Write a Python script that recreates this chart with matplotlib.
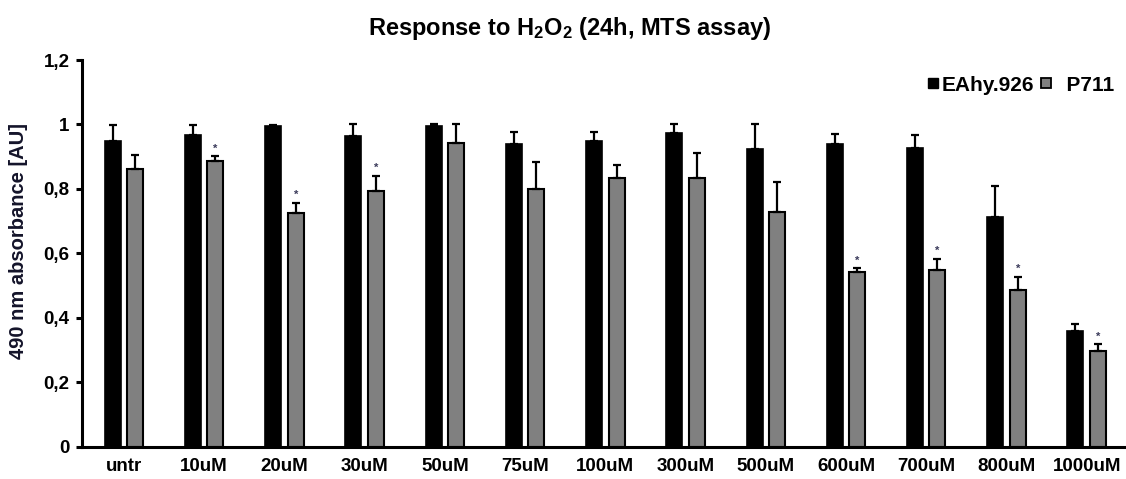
import numpy as np
import matplotlib.pyplot as plt
from matplotlib.lines import Line2D
from matplotlib.ticker import FuncFormatter

plt.rcParams['font.family'] = ['Liberation Sans', 'DejaVu Sans']
plt.rcParams['font.weight'] = 'bold'
plt.rcParams['mathtext.fontset'] = 'custom'
plt.rcParams['mathtext.bf'] = 'Liberation Sans:bold'
plt.rcParams['mathtext.rm'] = 'Liberation Sans:bold'
plt.rcParams['mathtext.default'] = 'bf'

# data
doses = ["untr", "10uM", "20uM", "30uM", "50uM", "75uM", "100uM",
         "300uM", "500uM", "600uM", "700uM", "800uM", "1000uM"]
eahy = [0.949, 0.967, 0.996, 0.964, 0.996, 0.939, 0.948,
        0.973, 0.924, 0.939, 0.928, 0.714, 0.359]
eahy_err = [0.049, 0.031, 0.003, 0.036, 0.004, 0.036, 0.030,
            0.027, 0.076, 0.032, 0.038, 0.095, 0.020]
p711 = [0.862, 0.887, 0.724, 0.793, 0.942, 0.799, 0.833,
        0.833, 0.728, 0.542, 0.547, 0.487, 0.298]
p711_err = [0.043, 0.015, 0.033, 0.048, 0.058, 0.085, 0.040,
            0.077, 0.093, 0.012, 0.036, 0.040, 0.020]
signif = [False, True, True, True, False, False, False,
          False, False, True, True, True, True]

x = np.arange(len(doses))
w = 0.2
off = 0.14

fig = plt.figure(figsize=(11.26, 4.79), dpi=100)
ax = fig.add_axes([0.0728, 0.0678, 0.9272, 0.8069])

ax.bar(x - off, eahy, w, color='black', edgecolor='black', linewidth=1.2, zorder=2)
ax.bar(x + off, p711, w, color='#808080', edgecolor='black', linewidth=1.5, zorder=2)

# upper error bars only
ax.errorbar(x - off, eahy, yerr=[np.zeros(len(x)), eahy_err], fmt='none',
            ecolor='black', elinewidth=1.6, capsize=2.8, capthick=1.6, zorder=3)
ax.errorbar(x + off, p711, yerr=[np.zeros(len(x)), p711_err], fmt='none',
            ecolor='black', elinewidth=1.6, capsize=2.8, capthick=1.6, zorder=3)

for i in range(len(x)):
    if signif[i]:
        ax.text(x[i] + off, p711[i] + p711_err[i] + 0.008, '*', ha='center',
                va='bottom', fontsize=8, color='#3a3a5a')

ax.set_xlim(-0.524, 12.49)
ax.set_ylim(0, 1.2)
ax.set_yticks([0, 0.2, 0.4, 0.6, 0.8, 1.0, 1.2])
ax.yaxis.set_major_formatter(FuncFormatter(
    lambda v, p: ('%g' % round(v, 1)).replace('.', ',')))
ax.set_xticks(x)
ax.set_xticklabels(doses)

for s in ['top', 'right']:
    ax.spines[s].set_visible(False)
for s in ['left', 'bottom']:
    ax.spines[s].set_linewidth(2.2)
ax.tick_params(axis='y', length=4, width=2.2, labelsize=13.5, pad=5)
ax.tick_params(axis='x', length=0, labelsize=13.5, pad=8)
for lab in ax.get_xticklabels() + ax.get_yticklabels():
    lab.set_fontweight('bold')

ax.set_ylabel('490 nm absorbance [AU]', fontsize=14.5, fontweight='bold',
              color='#14142a')
ax.yaxis.set_label_coords(-0.052, 0.532)

fig.text(0.506, 0.94, r'Response to H$_2$O$_2$ (24h, MTS assay)', ha='center',
         va='center', fontsize=17, fontweight='bold')

handles = [Line2D([], [], marker='s', linestyle='none', markersize=7,
                  markerfacecolor='black', markeredgecolor='black'),
           Line2D([], [], marker='s', linestyle='none', markersize=7.5,
                  markerfacecolor='#808080', markeredgecolor='black',
                  markeredgewidth=1.3)]
fig.legend(handles, ['EAhy.926', '  P711'], loc='center right',
           bbox_to_anchor=(1.006, 0.8225), ncol=2, frameon=False,
           handlelength=0.5, handletextpad=0.15, columnspacing=0.35,
           prop={'size': 15, 'weight': 'bold'})

fig.savefig('out.png', dpi=100)
